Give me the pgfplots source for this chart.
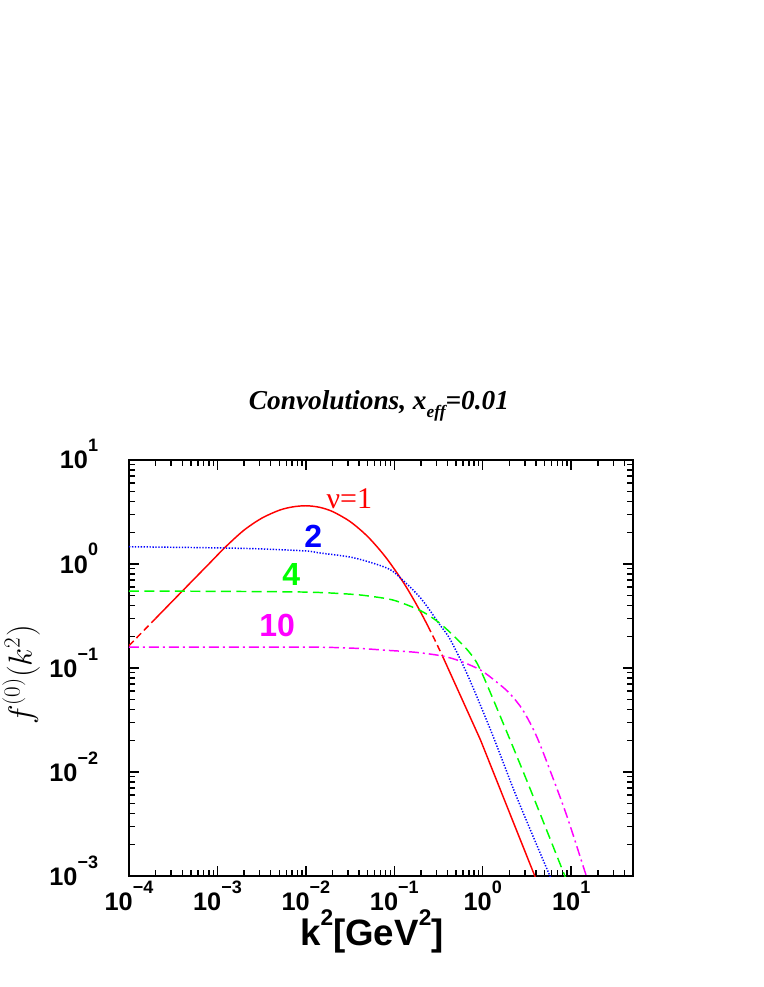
\documentclass[border=0pt]{standalone}
\usepackage{fontspec}
\setmainfont{Liberation Serif}
\setsansfont{Liberation Sans}
\usepackage{pgfplots}
\pgfplotsset{compat=1.18}
\definecolor{cred}{RGB}{255,0,0}
\definecolor{cblue}{RGB}{0,0,255}
\definecolor{cgreen}{RGB}{0,255,0}
\definecolor{cmag}{RGB}{255,0,255}

% tick label: bold sans 10 with raised exponent
\newcommand{\tl}[1]{\sffamily\bfseries\fontsize{19}{20}\selectfont 10\raisebox{12.75pt}{\fontsize{13.5}{14}\selectfont #1}}

\begin{document}
\begin{tikzpicture}
\begin{axis}[
  at={(0pt,0pt)}, anchor=south west,
  width=378pt, height=312pt, scale only axis,
  xmode=log, ymode=log,
  xmin=1e-4, xmax=50, ymin=1e-3, ymax=10,
  xtick={1e-4,1e-3,1e-2,1e-1,1,10},
  xticklabels={{\tl{−4}},{\tl{−3}},{\tl{−2}},{\tl{−1}},{\tl{0}},{\tl{1}}},
  ytick={1e-3,1e-2,1e-1,1,10},
  yticklabels={{\tl{−3}},{\tl{−2}},{\tl{−1}},{\tl{0}},{\tl{1}}},
  minor xtick={2e-4,3e-4,4e-4,5e-4,6e-4,7e-4,8e-4,9e-4,
               2e-3,3e-3,4e-3,5e-3,6e-3,7e-3,8e-3,9e-3,
               2e-2,3e-2,4e-2,5e-2,6e-2,7e-2,8e-2,9e-2,
               0.2,0.3,0.4,0.5,0.6,0.7,0.8,0.9,
               2,3,4,5,6,7,8,9,20,30,40},
  minor ytick={2e-3,3e-3,4e-3,5e-3,6e-3,7e-3,8e-3,9e-3,
               2e-2,3e-2,4e-2,5e-2,6e-2,7e-2,8e-2,9e-2,
               0.2,0.3,0.4,0.5,0.6,0.7,0.8,0.9,
               2,3,4,5,6,7,8,9},
  tick align=inside,
  major tick length=7.5pt, minor tick length=4.5pt,
  every tick/.style={black, line width=1.1pt},
  axis line style={line width=2pt},
  xticklabel style={anchor=base, inner sep=0pt, yshift=-25.5pt},
  yticklabel style={anchor=base east, inner sep=0pt, xshift=-23pt, yshift=-6.75pt},
  xlabel={\sffamily\bfseries\fontsize{27.5}{30}\selectfont k\raisebox{15pt}{\fontsize{17}{18}\selectfont 2}[GeV\raisebox{15pt}{\fontsize{17}{18}\selectfont 2}]},
  xlabel style={at={(axis description cs:0.482,0)}, anchor=base, yshift=-51.75pt, inner sep=0pt},
  ylabel={\fontsize{23}{26}\selectfont $f^{(0)}(k^2)$},
  ylabel style={at={(axis description cs:-0.193,0.483)}, anchor=base, inner sep=0pt},
  title={\bfseries\itshape\fontsize{20.5}{24}\selectfont Convolutions, x\raisebox{-6pt}{\fontsize{13}{14}\selectfont eff}=0.01},
  title style={at={(axis description cs:0.496,1)}, anchor=base, yshift=32pt, inner sep=0pt},
]

% nu = 1 (red), drawn in pieces: dashed / solid / dashed / solid
\addplot[cred, line width=1.1pt, dash pattern=on 5pt off 3pt]
  coordinates {(1e-4,0.164) (1.995e-4,0.299)};
\addplot[cred, line width=1.1pt, smooth]
  coordinates {(1.995e-4,0.299) (3.981e-4,0.546) (7.943e-4,0.995) (1.230e-3,1.455)
               (1.995e-3,2.113) (3.162e-3,2.754) (5.012e-3,3.289) (7.079e-3,3.540)
               (1e-2,3.631) (1.413e-2,3.516) (1.995e-2,3.199) (3.162e-2,2.559)
               (5.012e-2,1.832) (7.943e-2,1.170) (0.1259,0.670) (0.1778,0.409)
               (0.2399,0.2535)};
\addplot[cred, line width=1.1pt, smooth, dash pattern=on 5pt off 3pt]
  coordinates {(0.2399,0.2535) (0.2884,0.1845) (0.3508,0.1303)};
\addplot[cred, line width=1.1pt]
  coordinates {(0.3508,0.1303) (0.5623,0.0537) (0.9441,0.02028)
               (1.995,0.00412) (4.169,0.000857)};

% nu = 2 (blue, dotted)
\addplot[cblue, line width=1.1pt, smooth, dash pattern=on 1pt off 1.2pt]
  coordinates {(1e-4,1.466) (1e-3,1.429) (3.162e-3,1.396) (1e-2,1.334) (1.445e-2,1.276)
               (3.467e-2,1.148) (8.318e-2,0.912) (0.1175,0.733) (0.1995,0.4677)
               (0.3311,0.257) (0.4315,0.1862) (0.6761,0.0851) (1.259,0.02399)
               (2.239,0.00676) (3.548,0.00263) (5.559,0.00107) (6.026,0.000912)};

% nu = 4 (green, dashed)
\addplot[cgreen, line width=1.1pt, smooth, dash pattern=on 7.5pt off 4pt]
  coordinates {(1e-4,0.5495) (1e-3,0.5458) (1e-2,0.537) (3.162e-2,0.5129) (5.370e-2,0.4898)
               (0.1,0.4467) (0.1995,0.3548) (0.3162,0.2754) (0.4677,0.2042) (0.7079,0.1413)
               (0.9441,0.0955) (1.778,0.02692) (3.467,0.00676) (8.222,0.00107) (8.913,0.000912)};

% nu = 10 (magenta, dash-dot)
\addplot[cmag, line width=1.1pt, smooth, dash pattern=on 7.5pt off 3pt on 1.5pt off 3pt]
  coordinates {(1e-4,0.1585) (3.162e-3,0.1585) (1.445e-2,0.1585) (3.981e-2,0.1542)
               (8.318e-2,0.1479) (0.1778,0.1413) (0.3508,0.1303) (0.5623,0.1161)
               (0.9441,0.0955) (1.413,0.0741) (1.995,0.0575) (2.818,0.0398)
               (3.981,0.0229) (5.623,0.01096) (8.913,0.0038) (14.45,0.001072) (15.85,0.000851)};

\node[cred, anchor=base, inner sep=0pt, font=\fontsize{22.5}{24}\selectfont] at (axis cs:0.031,3.45) {ν=1};
\node[cblue, anchor=base, inner sep=0pt, font=\sffamily\bfseries\fontsize{24}{26}\selectfont] at (axis cs:0.01213,1.456) {2};
\node[cgreen, anchor=base, inner sep=0pt, font=\sffamily\bfseries\fontsize{24}{26}\selectfont] at (axis cs:6.84e-3,0.628) {4};
\node[cmag, anchor=base, inner sep=0pt, font=\sffamily\bfseries\fontsize{24}{26}\selectfont] at (axis cs:4.74e-3,0.1995) {10};
\end{axis}
\pgfresetboundingbox
\useasboundingbox (-96.75pt,-83.25pt) rectangle (475.5pt,657pt);
\end{tikzpicture}
\end{document}
